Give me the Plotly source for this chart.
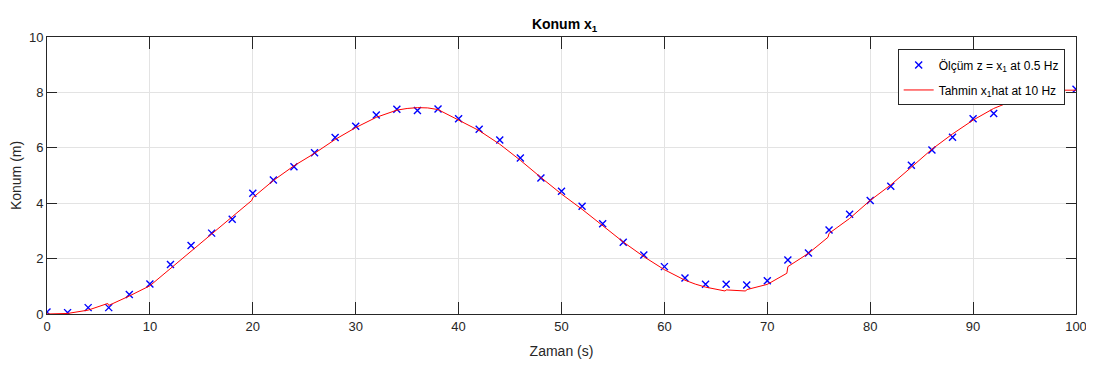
import plotly.graph_objects as go

# Measurements (0.5 Hz)
meas_t = [0, 2, 4, 6, 8, 10, 12, 14, 16, 18, 20, 22, 24, 26, 28, 30, 32, 34, 36, 38,
          40, 42, 44, 46, 48, 50, 52, 54, 56, 58, 60, 62, 64, 66, 68, 70, 72, 74, 76, 78,
          80, 82, 84, 86, 88, 90, 92, 94, 96, 98, 100]
meas_z = [0.07, 0.05, 0.23, 0.23, 0.70, 1.08, 1.79, 2.47, 2.92, 3.42, 4.36, 4.84, 5.32, 5.82, 6.37, 6.78, 7.18, 7.39, 7.35, 7.40,
          7.05, 6.67, 6.28, 5.63, 4.91, 4.43, 3.89, 3.26, 2.59, 2.13, 1.71, 1.30, 1.07, 1.07, 1.05, 1.20, 1.95, 2.20, 3.03, 3.60,
          4.10, 4.61, 5.37, 5.92, 6.38, 7.05, 7.24, 7.78, 7.92, 8.02, 8.11]

# Estimate (10 Hz), read at key times
est_t = [0, 2, 4, 5.9, 6.0, 8, 10, 12, 14, 16, 18, 19.9, 20, 22, 24, 26, 28, 30, 32, 34, 35, 36, 37, 38,
         40, 42, 44, 46, 48, 50, 52, 54, 56, 58, 60, 62, 63, 64, 65.9, 66, 67.9, 68, 70, 71.9, 72,
         74, 75.9, 76, 78, 80, 82, 84, 86, 88, 90, 92, 94, 96, 98, 100]
est_x = [0.0, 0.02, 0.14, 0.38, 0.31, 0.65, 1.02, 1.65, 2.27, 2.91, 3.51, 4.10, 4.20, 4.82, 5.35, 5.80, 6.30, 6.73, 7.10, 7.36, 7.42, 7.45, 7.44, 7.38,
         7.00, 6.62, 6.13, 5.55, 4.93, 4.33, 3.78, 3.20, 2.60, 2.07, 1.60, 1.22, 1.08, 0.97, 0.83, 0.87, 0.83, 0.88, 1.07, 1.47, 1.71,
         2.19, 2.77, 2.91, 3.45, 4.10, 4.66, 5.30, 5.95, 6.50, 7.00, 7.42, 7.72, 7.95, 8.08, 8.08]

FONT = "Arial, Liberation Sans, Helvetica, sans-serif"
AX = "#262626"

fig = go.Figure()
fig.add_trace(go.Scatter(
    x=meas_t, y=meas_z, mode="markers",
    name="Ölçüm z = x<sub>1</sub> at 0.5 Hz", legendgroup="a",
    marker=dict(symbol="x-thin", size=7, color="blue", line=dict(width=1.4, color="blue")),
))
fig.add_trace(go.Scatter(
    x=est_t, y=est_x, mode="lines",
    name="Tahmin x<sub>1</sub>hat at 10 Hz", legendgroup="b",
    line=dict(color="red", width=1),
))

axis_common = dict(
    showline=True, linecolor=AX, linewidth=1, mirror="ticks",
    ticks="inside", tickcolor=AX, tickwidth=1,
    showgrid=True, gridcolor="#e3e3e3", gridwidth=1,
    zeroline=False, tickfont=dict(family=FONT, size=13, color=AX),
    automargin=False,
)

fig.update_layout(
    width=1086, height=357,
    paper_bgcolor="white", plot_bgcolor="white",
    margin=dict(l=39, r=18, t=29, b=51),
    font=dict(family=FONT, color=AX),
    title=dict(text="<b>Konum x<sub>1</sub></b>", x=0.503, xref="paper", xanchor="center",
               y=0.955, yanchor="middle", font=dict(family=FONT, size=14, color="black"),
               automargin=False),
    xaxis=dict(range=[0, 100], dtick=10, ticklen=12,
               title=dict(text="Zaman (s)", font=dict(family=FONT, size=14, color=AX), standoff=13),
               **axis_common),
    yaxis=dict(range=[0, 10], dtick=2, ticklen=10,
               title=dict(text="Konum (m)", font=dict(family=FONT, size=14, color=AX), standoff=11),
               **axis_common),
    legend=dict(x=0.989, y=0.955, xanchor="right", yanchor="top",
                bgcolor="white", bordercolor=AX, borderwidth=1,
                font=dict(family=FONT, size=12, color="black"),
                traceorder="grouped", tracegroupgap=6),
    showlegend=True,
)

fig.write_html("out.html")
